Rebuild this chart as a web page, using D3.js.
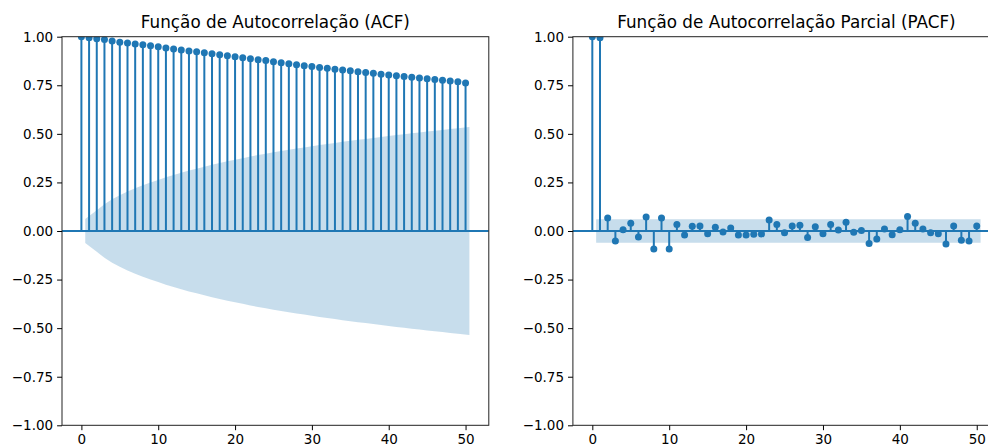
<!DOCTYPE html>
<html>
<head>
<meta charset="utf-8">
<script src="https://cdn.jsdelivr.net/npm/d3@7"></script>
<style>
  body { margin: 0; background: #fff; }
  text { font-family: "DejaVu Sans", sans-serif; fill: #000; }
</style>
</head>
<body>
<script>
// lags 0..50
var lags = d3.range(0, 51);

var acfValues = [1.000, 0.995, 0.990, 0.985, 0.978, 0.972, 0.968, 0.962, 0.958, 0.953,
  0.948, 0.942, 0.937, 0.932, 0.927, 0.922, 0.917, 0.912, 0.907, 0.902,
  0.897, 0.892, 0.887, 0.882, 0.877, 0.871, 0.866, 0.861, 0.856, 0.851,
  0.846, 0.842, 0.838, 0.833, 0.829, 0.825, 0.820, 0.816, 0.812, 0.807,
  0.803, 0.799, 0.795, 0.791, 0.788, 0.784, 0.780, 0.776, 0.772, 0.768, 0.762];

// half width of the ACF confidence band, lags 1..50
var acfBand = [0.062, 0.107, 0.138, 0.163, 0.184, 0.203, 0.220, 0.235, 0.250, 0.263,
  0.276, 0.288, 0.300, 0.311, 0.321, 0.331, 0.341, 0.350, 0.359, 0.367,
  0.375, 0.383, 0.391, 0.398, 0.405, 0.412, 0.418, 0.424, 0.430, 0.436,
  0.442, 0.448, 0.453, 0.459, 0.464, 0.469, 0.474, 0.479, 0.484, 0.489,
  0.494, 0.498, 0.503, 0.507, 0.512, 0.516, 0.520, 0.525, 0.529, 0.535];

var pacfValues = [1.000, 0.995, 0.067, -0.052, 0.007, 0.040, -0.031, 0.072, -0.093, 0.067,
  -0.093, 0.033, -0.021, 0.024, 0.026, -0.014, 0.019, -0.005, 0.015, -0.021,
  -0.021, -0.017, -0.015, 0.057, 0.034, -0.009, 0.026, 0.029, -0.034, 0.022,
  -0.014, 0.033, 0.005, 0.045, -0.007, 0.002, -0.064, -0.041, 0.010, -0.019,
  0.007, 0.074, 0.040, 0.010, -0.009, -0.014, -0.067, 0.026, -0.048, -0.052, 0.026];

// PACF band is constant for lags 1..50
var pacfBand = lags.slice(1).map(function() { return 0.061; });

var yTicks = [-1, -0.75, -0.5, -0.25, 0, 0.25, 0.5, 0.75, 1];
var xTicks = [0, 10, 20, 30, 40, 50];

var C0 = "#1f77b4";
var width = 988, height = 447;

var svg = d3.select("body").append("svg")
    .attr("width", width)
    .attr("height", height);

var fmt = d3.format(".2f");

function drawPanel(left, right, title, values, band) {
  var top = 36.7, bottom = 425.3;

  var x = d3.scaleLinear().domain([-2.525, 53.025]).range([left, right]);
  var y = d3.scaleLinear().domain([-1, 1]).range([bottom, top]);

  var g = svg.append("g");

  var clipId = "clip" + Math.round(left);
  g.append("clipPath").attr("id", clipId)
    .append("rect")
    .attr("x", left).attr("y", top)
    .attr("width", right - left).attr("height", bottom - top);

  var plot = g.append("g").attr("clip-path", "url(#" + clipId + ")");

  // stems
  plot.selectAll(".stem")
      .data(lags)
      .enter().append("line")
      .attr("class", "stem")
      .attr("x1", function(d) { return x(d); })
      .attr("x2", function(d) { return x(d); })
      .attr("y1", y(0))
      .attr("y2", function(d) { return y(values[d]); })
      .style("stroke", C0)
      .style("stroke-width", 2);

  // zero line
  plot.append("line")
      .attr("x1", left).attr("x2", right)
      .attr("y1", y(0)).attr("y2", y(0))
      .style("stroke", C0)
      .style("stroke-width", 2);

  // markers
  plot.selectAll(".dot")
      .data(lags)
      .enter().append("circle")
      .attr("class", "dot")
      .attr("cx", function(d) { return x(d); })
      .attr("cy", function(d) { return y(values[d]); })
      .attr("r", 3.5)
      .style("fill", C0);

  // confidence band (lags 1..50, ends pushed out by half a lag)
  var bandData = band.map(function(b, i) {
    var lag = i + 1;
    if (i === 0) lag -= 0.5;
    if (i === band.length - 1) lag += 0.5;
    return {lag: lag, b: b};
  });

  plot.append("path")
      .datum(bandData)
      .attr("d", d3.area()
        .x(function(d) { return x(d.lag); })
        .y0(function(d) { return y(-d.b); })
        .y1(function(d) { return y(d.b); }))
      .style("fill", C0)
      .style("fill-opacity", 0.25);

  // spines
  g.append("rect")
      .attr("x", left).attr("y", top)
      .attr("width", right - left).attr("height", bottom - top)
      .style("fill", "none")
      .style("stroke", "#222")
      .style("stroke-width", 1);

  // y axis
  g.append("g")
      .attr("transform", "translate(" + left + ",0)")
      .call(d3.axisLeft(y).tickValues(yTicks).tickFormat(fmt)
        .tickSizeOuter(0).tickSizeInner(4.9).tickPadding(4))
      .call(function(a) {
        a.select(".domain").remove();
        a.selectAll("text").style("font-size", "13.5px")
          .style("font-family", "DejaVu Sans, sans-serif").style("fill", "#000");
      });

  // x axis
  g.append("g")
      .attr("transform", "translate(0," + bottom + ")")
      .call(d3.axisBottom(x).tickValues(xTicks).tickFormat(d3.format("d"))
        .tickSizeOuter(0).tickSizeInner(4.9).tickPadding(4))
      .call(function(a) {
        a.select(".domain").remove();
        a.selectAll("text").style("font-size", "13.5px")
          .style("font-family", "DejaVu Sans, sans-serif").style("fill", "#000");
      });

  // title
  g.append("text")
      .attr("x", (left + right) / 2)
      .attr("y", top - 9)
      .style("text-anchor", "middle")
      .style("font-size", "16.8px")
      .text(title);
}

drawPanel(62, 488.8, "Função de Autocorrelação (ACF)", acfValues, acfBand);
drawPanel(572.9, 1000, "Função de Autocorrelação Parcial (PACF)", pacfValues, pacfBand);
</script>
</body>
</html>
